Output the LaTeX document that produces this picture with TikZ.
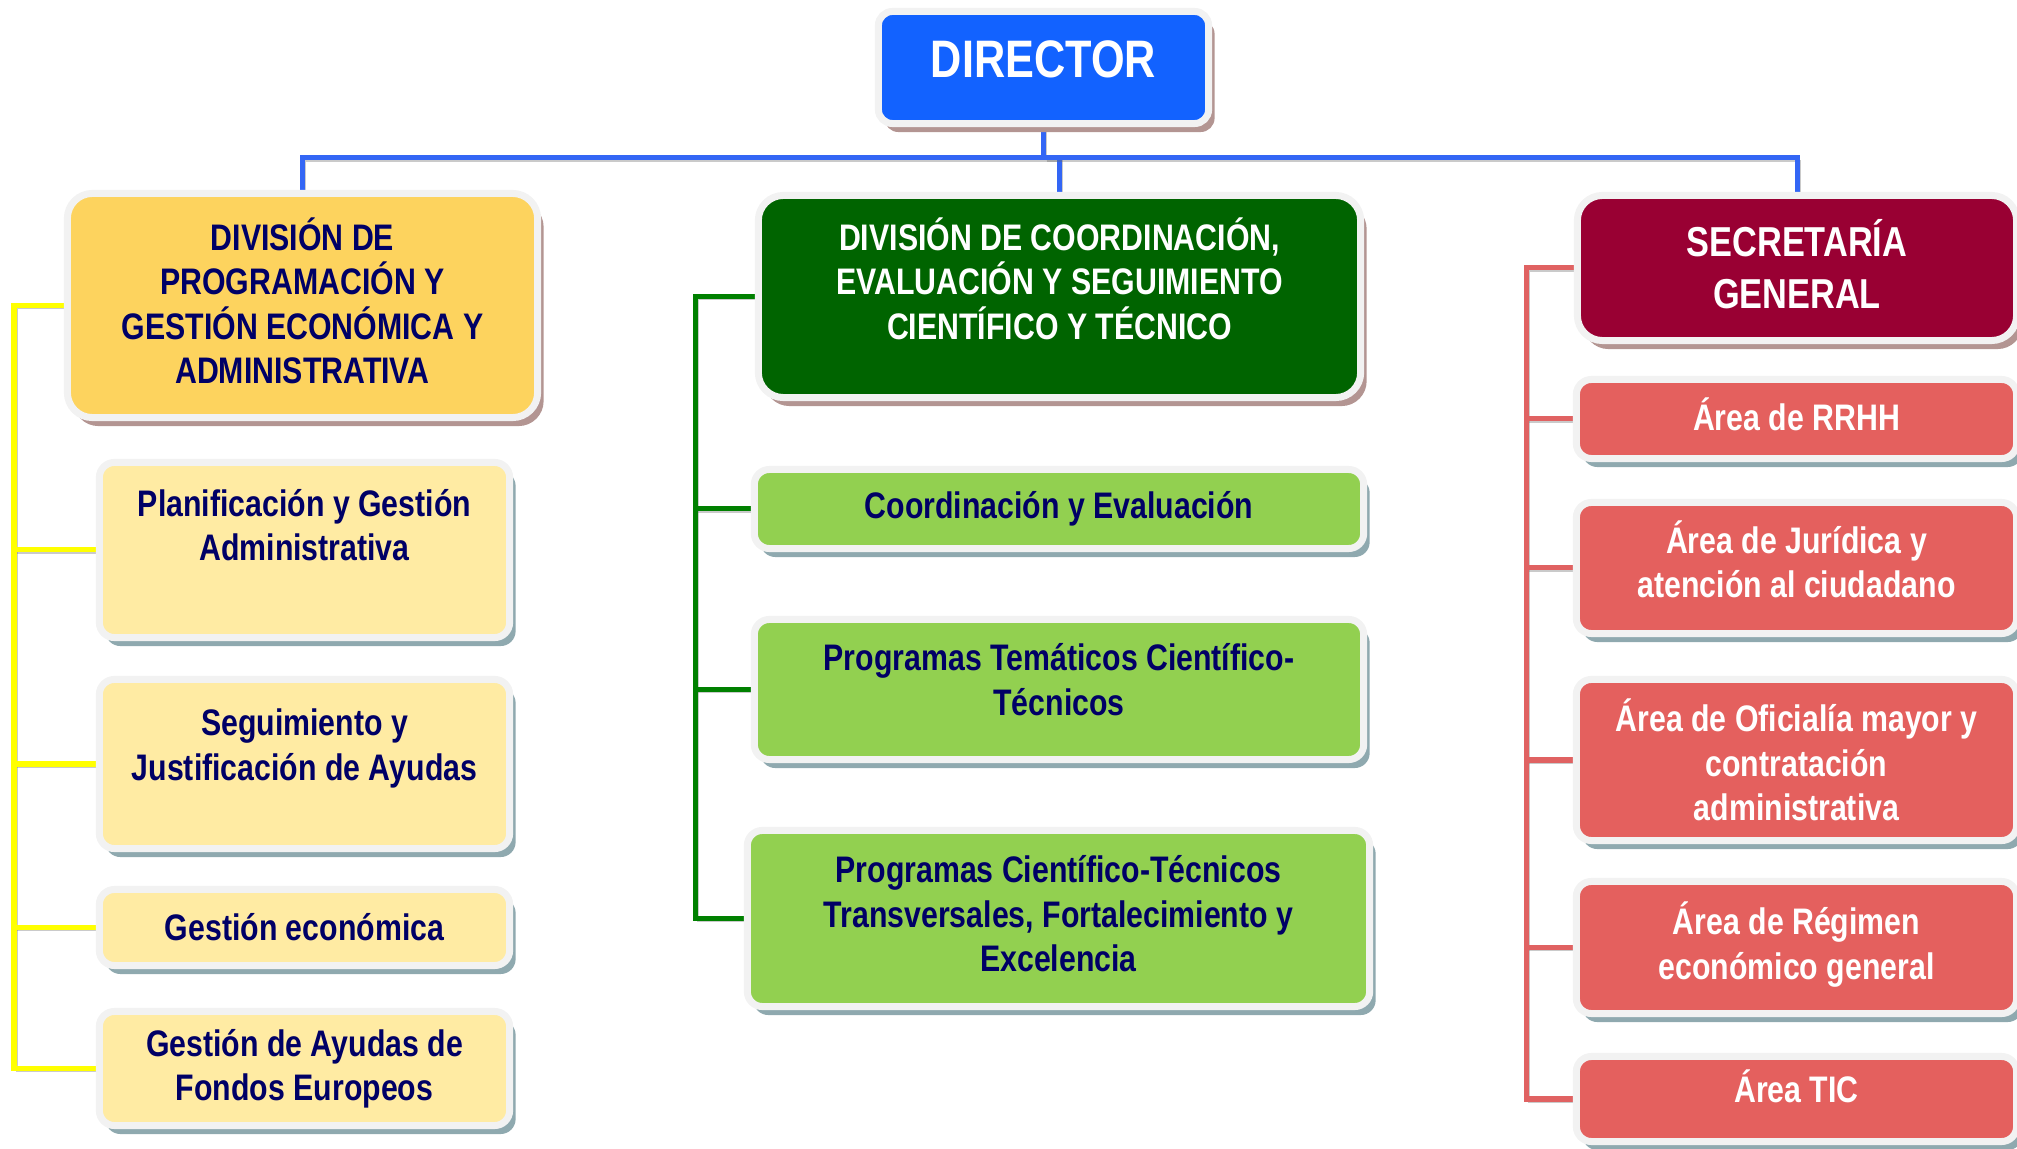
\documentclass[tikz,border=0pt]{standalone}
\usepackage{fontspec}
\setmainfont{Liberation Sans}[FakeStretch=0.82]
\usetikzlibrary{positioning,shadows}

\definecolor{dirblue}{HTML}{1262FF}
\definecolor{busblue}{HTML}{3366F5}
\definecolor{divAfill}{HTML}{FDD35E}
\definecolor{ylwsub}{HTML}{FFEBA3}
\definecolor{ylwline}{HTML}{FFFF00}
\definecolor{divBfill}{HTML}{006400}
\definecolor{grnsub}{HTML}{92D050}
\definecolor{grnline}{HTML}{008000}
\definecolor{secfill}{HTML}{990033}
\definecolor{redsub}{HTML}{E4605E}
\definecolor{redline}{HTML}{E06262}
\definecolor{navy}{HTML}{000066}
\definecolor{rimgray}{HTML}{F2F2F2}
\definecolor{shadowbrown}{HTML}{B39592}
\definecolor{shadowblue}{HTML}{8FA9AF}

\pgfdeclarelayer{background}
\pgfsetlayers{background,main}

\begin{document}
\begin{tikzpicture}[x=0.01cm, y=-0.01cm,
  orgbox/.style={draw=rimgray, line width=0.07cm, rounded corners=0.15cm, inner sep=0pt,
    align=center, font=\fontsize{10.5}{12.6}\selectfont\bfseries},
  topunit/.style={orgbox, rounded corners=0.25cm,
    drop shadow={shadow xshift=0.06cm, shadow yshift=-0.085cm, fill=shadowbrown, opacity=1}},
  subunit/.style={orgbox,
    drop shadow={shadow xshift=0.06cm, shadow yshift=-0.085cm, fill=shadowblue, opacity=1}},
  tie/.style={line width=0.05cm,
    preaction={draw=black!60, opacity=0.35, transform canvas={shift={(0.03cm,-0.03cm)}}}}
]
\useasboundingbox (0,0) rectangle (2017,1149);

\coordinate (bus) at (0,158);
\coordinate (spineA) at (14,0);
\coordinate (spineB) at (695,0);
\coordinate (spineC) at (1526,0);

% director
\node[topunit, rounded corners=0.14cm, fill=dirblue, text=white, font=\fontsize{15}{18}\selectfont\bfseries,
  minimum width=3.30cm, minimum height=1.12cm, text depth=0.16cm] (dir) at (1043.5, 67.5) {DIRECTOR};

% columna izquierda
\def\x{304.5}
\node[topunit, fill=divAfill, text=navy, minimum width=4.70cm, minimum height=2.24cm, text depth=0.1cm] (divA) at (\x - 2, 305.5)
  {DIVISIÓN DE\\PROGRAMACIÓN Y\\GESTIÓN ECONÓMICA Y\\ADMINISTRATIVA};
\node[subunit, fill=ylwsub, text=navy, minimum width=4.10cm, minimum height=1.75cm, text depth=0.5cm] (plan) at (\x, 550)
  {Planificación y Gestión\\Administrativa};
\node[subunit, fill=ylwsub, text=navy, minimum width=4.10cm, minimum height=1.69cm, text depth=0.39cm] (segu) at (\x, 764)
  {Seguimiento y\\Justificación de Ayudas};
\node[subunit, fill=ylwsub, text=navy, minimum width=4.10cm, minimum height=0.76cm] (geco) at (\x, 927.5)
  {Gestión económica};
\node[subunit, fill=ylwsub, text=navy, minimum width=4.10cm, minimum height=1.14cm] (gayu) at (\x, 1068.5)
  {Gestión de Ayudas de\\Fondos Europeos};

% columna central
\def\x{1059}
\node[topunit, fill=divBfill, text=white, minimum width=6.02cm, minimum height=2.02cm, text depth=0.36cm] (divB) at (\x + 0.5, 296.5)
  {DIVISIÓN DE COORDINACIÓN,\\EVALUACIÓN Y SEGUIMIENTO\\CIENTÍFICO Y TÉCNICO};
\node[subunit, fill=grnsub, text=navy, minimum width=6.09cm, minimum height=0.79cm] (coev) at (\x, 509)
  {Coordinación y Evaluación};
\node[subunit, fill=grnsub, text=navy, minimum width=6.09cm, minimum height=1.40cm, text depth=0.2cm] (ptem) at (\x, 689.5)
  {Programas Temáticos Científico-\\Técnicos};
\node[subunit, fill=grnsub, text=navy, minimum width=6.22cm, minimum height=1.76cm, text depth=0.1cm] (ptra) at (\x - 0.5, 918.5)
  {Programas Científico-Técnicos\\Transversales, Fortalecimiento y\\Excelencia};

% columna derecha
\def\x{1796.5}
\node[topunit, fill=secfill, text=white, font=\fontsize{11.9}{14.6}\selectfont\bfseries,
  minimum width=4.39cm, minimum height=1.45cm, text depth=0.08cm] (sec) at (\x + 0.5, 268) {SECRETARÍA\\GENERAL};
\node[subunit, fill=redsub, text=white, minimum width=4.40cm, minimum height=0.79cm, text depth=0.1cm] (rrhh) at (\x, 419)
  {Área de RRHH};
\node[subunit, fill=redsub, text=white, minimum width=4.40cm, minimum height=1.31cm, text depth=0.18cm] (juri) at (\x, 568)
  {Área de Jurídica y\\atención al ciudadano};
\node[subunit, fill=redsub, text=white, minimum width=4.40cm, minimum height=1.61cm] (ofic) at (\x, 760)
  {Área de Oficialía mayor y\\contratación\\administrativa};
\node[subunit, fill=redsub, text=white, minimum width=4.40cm, minimum height=1.32cm, text depth=0.14cm] (regi) at (\x, 947.5)
  {Área de Régimen\\económico general};
\node[subunit, fill=redsub, text=white, minimum width=4.40cm, minimum height=0.85cm, text depth=0.26cm] (tic) at (\x, 1099)
  {Área TIC};

% conectores, por debajo de las cajas
\begin{pgfonlayer}{background}
\draw[tie, draw=busblue] (dir.south) -- (dir.south |- bus) -| (divA.north);
\draw[tie, draw=busblue] (dir.south |- bus) -| (divB.north);
\draw[tie, draw=busblue] (dir.south |- bus) -| (sec.north);

\draw[tie, draw=ylwline] (divA.west) -| (spineA |- gayu.west) -- (gayu.west);
\foreach \n in {plan, segu, geco}
  \draw[tie, draw=ylwline] (spineA |- \n.west) -- (\n.west);

\draw[tie, draw=grnline] (divB.west) -| (spineB |- ptra.west) -- (ptra.west);
\foreach \n in {coev, ptem}
  \draw[tie, draw=grnline] (spineB |- \n.west) -- (\n.west);

\draw[tie, draw=redline] (sec.west) -| (spineC |- tic.west) -- (tic.west);
\foreach \n in {rrhh, juri, ofic, regi}
  \draw[tie, draw=redline] (spineC |- \n.west) -- (\n.west);
\end{pgfonlayer}

\end{tikzpicture}
\end{document}
